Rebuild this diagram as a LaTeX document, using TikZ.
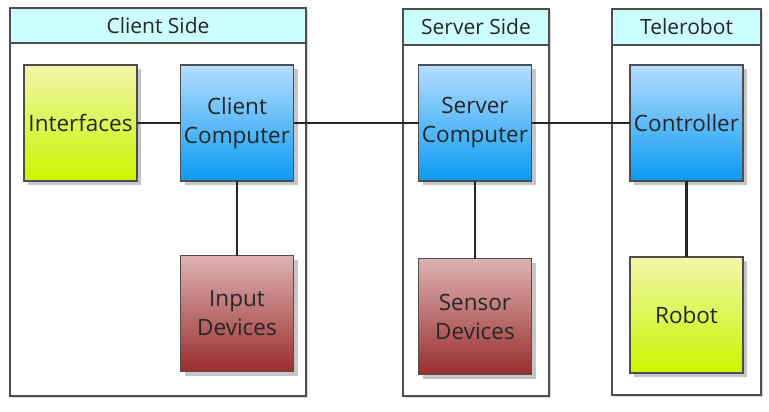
\documentclass[tikz,border=0pt]{standalone}
\usepackage{fontspec}
\setmainfont{Open Sans}
\usepackage{xcolor}
\usepackage{tikz}
\usetikzlibrary{shadows,positioning}

\definecolor{headcyan}{HTML}{CCFDFF}
\definecolor{bluetop}{HTML}{B4DDFF}
\definecolor{bluebot}{HTML}{0A9AF2}
\definecolor{greentop}{HTML}{EFF8A8}
\definecolor{greenbot}{HTML}{CCF400}
\definecolor{redtop}{HTML}{DDB2B2}
\definecolor{redbot}{HTML}{9A2E2E}
\definecolor{edgegray}{HTML}{4E4E4E}

\begin{document}
\begin{tikzpicture}[
  x=1pt, y=-1pt,
  every node/.style={align=center, text=black!85},
  % Containers
  panel/.style={
    rectangle, draw=edgegray, fill=white, line width=1.2pt,
    inner sep=0pt, outer sep=0pt,
    drop shadow={shadow xshift=2pt, shadow yshift=-2pt, fill=gray!30, opacity=1}
  },
  panelhead/.style={
    rectangle, draw=edgegray, fill=headcyan, line width=1.2pt,
    inner sep=0pt, outer sep=0pt, anchor=north,
    font=\fontsize{21}{24}\selectfont
  },
  % Component boxes
  block/.style={
    rectangle, draw=edgegray, line width=1.2pt,
    minimum width=113pt, minimum height=116pt,
    inner sep=0pt, outer sep=0pt,
    font=\fontsize{22.5}{29}\selectfont,
    drop shadow={shadow xshift=4pt, shadow yshift=-4pt, fill=gray!45, opacity=1}
  },
  bluebox/.style={block, top color=bluetop, bottom color=bluebot},
  greenbox/.style={block, top color=greentop, bottom color=greenbot},
  redbox/.style={block, top color=redtop, bottom color=redbot},
  % Connectors
  link/.style={draw=black!85, line width=2.3pt},
]
\useasboundingbox (0,0) rectangle (769,412);

% -------------------------------------------------------
% CONTAINERS
% -------------------------------------------------------
\node[panel, minimum width=296pt, minimum height=388pt] (client) at (158,202) {};
\node[panelhead, minimum width=296pt, minimum height=35pt] (clienthead) at (client.north) {Client Side};

\node[panel, minimum width=146pt, minimum height=387pt] (server) at (476,202.5) {};
\node[panelhead, minimum width=146pt, minimum height=36pt] (serverhead) at (server.north) {Server Side};

\node[panel, minimum width=149pt, minimum height=386pt] (robotside) at (686.5,202) {};
\node[panelhead, minimum width=149pt, minimum height=36pt] (robothead) at (robotside.north) {Telerobot};

% -------------------------------------------------------
% CLIENT SIDE
% -------------------------------------------------------
\node[greenbox] (iface) at (80.5,123) {Interfaces};
\node[bluebox]  (ccomp) at (237,123)  {Client\\Computer};
\node[redbox]   (input) at (237,313.5)  {Input\\Devices};

% -------------------------------------------------------
% SERVER SIDE
% -------------------------------------------------------
\node[bluebox]  (scomp)  at (475,123) {Server\\Computer};
\node[redbox]   (sensor) at (475,316.5) {Sensor\\Devices};

% -------------------------------------------------------
% TELEROBOT
% -------------------------------------------------------
\node[bluebox]  (ctrl)  at (686.5,123) {Controller};
\node[greenbox] (robot) at (686.5,315)   {Robot};

% Links
\draw[link] (iface) -- (ccomp);
\draw[link] (ccomp) -- (scomp);
\draw[link] (scomp) -- (ctrl);
\draw[link] (ccomp) -- (input);
\draw[link] (scomp) -- (sensor);
\draw[link] (ctrl) -- (robot);

\end{tikzpicture}
\end{document}
